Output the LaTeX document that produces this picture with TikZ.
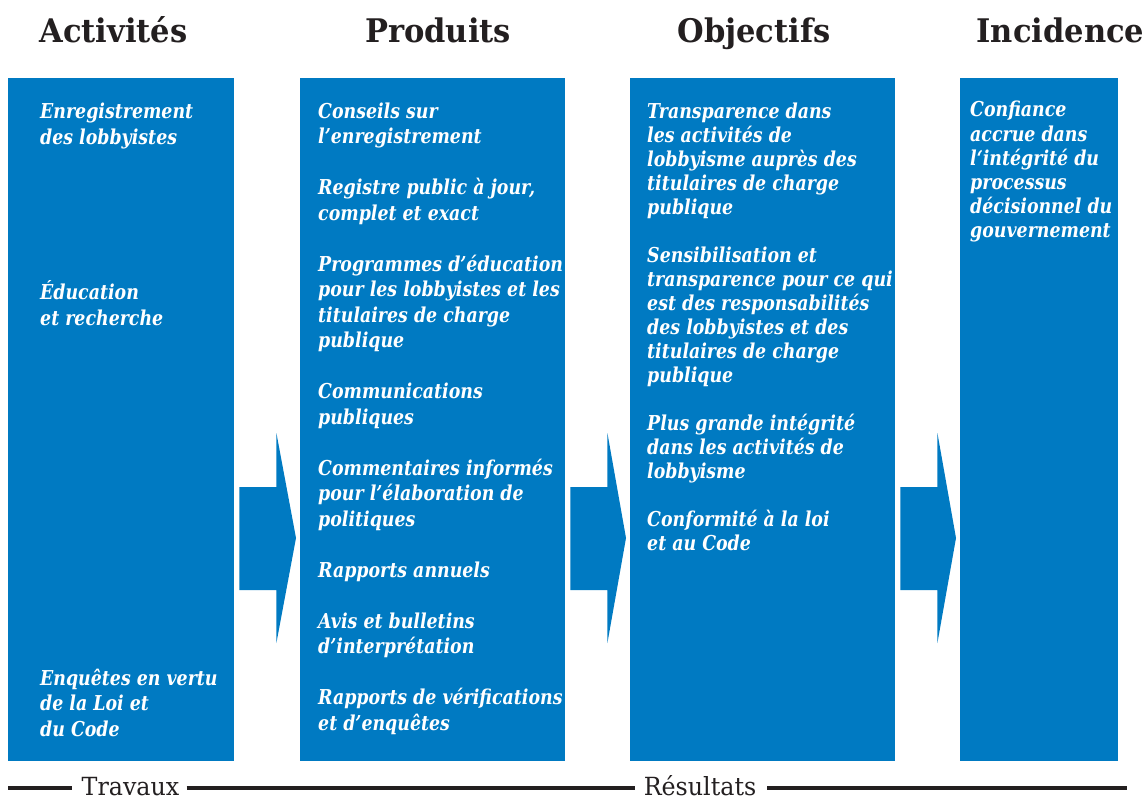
\documentclass[tikz,border=0pt]{standalone}
\usepackage{fontspec}
\usetikzlibrary{calc}
\newfontfamily\headfont[FakeStretch=0.94]{DejaVu Serif}
\newfontfamily\bodyfont[FakeStretch=0.848]{DejaVu Serif}
\newfontfamily\footfont[FakeStretch=0.95]{DejaVu Serif}
\definecolor{panelblue}{RGB}{0,122,194}
\definecolor{inkdark}{RGB}{35,31,32}
\tikzset{
  panel/.style={fill=panelblue, draw=none, inner sep=0pt, anchor=north west},
  head/.style={font=\headfont\bfseries\fontsize{32.5}{36}\selectfont, text=inkdark, anchor=base, inner sep=0pt},
  item/.style={font=\bodyfont\bfseries\itshape\fontsize{20.5}{24}\selectfont, text=white, anchor=base west, inner sep=0pt},
  foot/.style={font=\footfont\fontsize{25}{28}\selectfont, text=inkdark, anchor=base, inner sep=0pt, text depth=0pt},
  rule/.style={draw=inkdark, line width=4.6pt},
}
% lines of one item: x, first baseline, line step, name prefix, list of lines
\newcommand\itemlines[5]{%
  \foreach \txt [count=\k] in {#5}{%
    \node[item] (#4-\k) at (#1, {#2+(\k-1)*#3}) {\txt};
  }%
}
% block arrow between two panels
\newcommand\flowarrow[2]{%
  \path let \p1=(#1.east), \p2=(#2.west) in
    [fill=panelblue]
    (\x1+5pt,-487pt) -- (\x1+42pt,-487pt) -- (\x1+42pt,-433pt)
    -- (\x2-4pt,-538pt) -- (\x1+42pt,-643pt) -- (\x1+42pt,-590pt)
    -- (\x1+5pt,-590pt) -- cycle;
}
\begin{document}
\begin{tikzpicture}[x=1pt,y=-1pt]
\useasboundingbox (0,0) rectangle (1147,797);

% panels
\node[panel, minimum width=226pt, minimum height=683pt] (p1) at (8,78) {};
\node[panel, minimum width=265pt, minimum height=683pt] (p2) at (300,78) {};
\node[panel, minimum width=265pt, minimum height=683pt] (p3) at (630,78) {};
\node[panel, minimum width=158pt, minimum height=683pt] (p4) at (960,78) {};

% headings
\node[head] (h1) at (113.5,43) {Activités};
\node[head] (h2) at (438,43) {Produits};
\node[head] (h3) at (754,43) {Objectifs};
\node[head] (h4) at (1060.5,43) {Incidence};

% arrows
\flowarrow{p1}{p2}
\flowarrow{p2}{p3}
\flowarrow{p3}{p4}

% activities
\itemlines{40}{118}{26}{a1}{Enregistrement, des lobbyistes}
\itemlines{40}{299}{26}{a2}{Éducation, et recherche}
\itemlines{40}{685}{25.5}{a3}{Enquêtes en vertu, de la Loi et, du Code}

% products
\itemlines{318}{118}{25.5}{b1}{Conseils sur, l’enregistrement}
\itemlines{318}{194.5}{25.5}{b2}{{Registre public à jour,}, complet et exact}
\itemlines{318}{271}{25.5}{b3}{Programmes d’éducation, pour les lobbyistes et les, titulaires de charge, publique}
\itemlines{318}{398.5}{25.5}{b4}{Communications, publiques}
\itemlines{318}{475}{25.5}{b5}{Commentaires informés, pour l’élaboration de, politiques}
\itemlines{318}{577}{25.5}{b6}{Rapports annuels}
\itemlines{318}{628}{25.5}{b7}{Avis et bulletins, d’interprétation}
\itemlines{318}{704.5}{25.5}{b8}{Rapports de vérifications, et d’enquêtes}

% objectives
\itemlines{647}{118}{24}{c1}{Transparence dans, les activités de, lobbyisme auprès des, titulaires de charge, publique}
\itemlines{647}{262}{24}{c2}{Sensibilisation et, transparence pour ce qui, est des responsabilités, des lobbyistes et des, titulaires de charge, publique}
\itemlines{647}{430}{24}{c3}{Plus grande intégrité, dans les activités de, lobbyisme}
\itemlines{647}{526}{24}{c4}{Conformité à la loi, et au Code}

% impact
\itemlines{970}{117}{24}{d1}{Confiance, accrue dans, l‘intégrité du, processus, décisionnel du, gouvernement}

% bottom scale
\node[foot] (f1) at (130.5,795) {Travaux};
\node[foot] (f2) at (700,795) {Résultats};
\coordinate (r0) at (8,788);
\coordinate (r3) at (1127,788);
\draw[rule] (r0) -- ([xshift=-9pt]f1.west |- r0);
\draw[rule] ([xshift=7pt]f1.east |- r0) -- ([xshift=-9pt]f2.west |- r0);
\draw[rule] ([xshift=11pt]f2.east |- r0) -- (r3);
\end{tikzpicture}
\end{document}
